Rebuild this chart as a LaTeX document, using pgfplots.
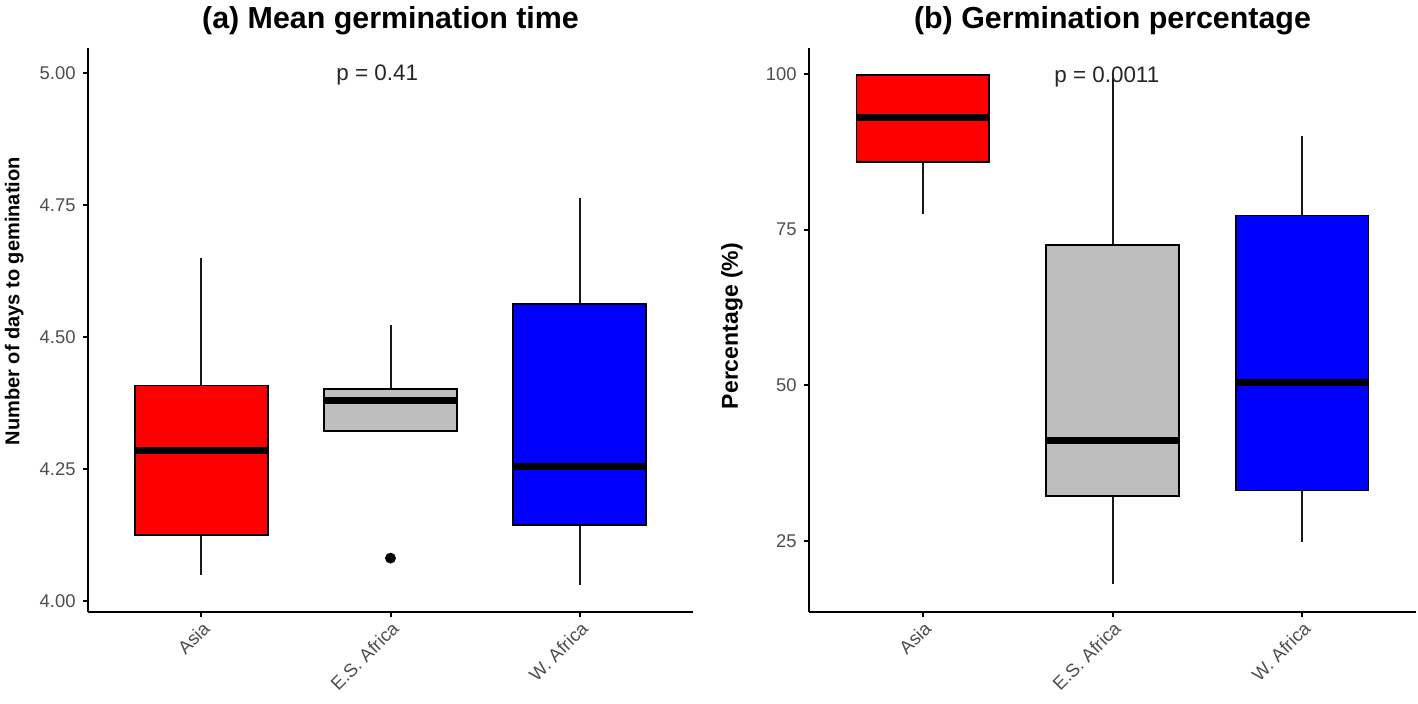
\documentclass[border=0pt]{standalone}
\usepackage{pgfplots}
\pgfplotsset{compat=1.18}
\usepgfplotslibrary{statistics}
\usepackage{fontspec}
\setmainfont{Liberation Sans}
\definecolor{tickgray}{HTML}{4D4D4D}
\definecolor{boxgray}{HTML}{BEBEBE}
\pgfplotsset{
  myaxis/.style={
    scale only axis, width=302.5pt, height=282pt,
    axis lines=left, axis line style={-, line width=0.9pt, black},
    xmin=0.4, xmax=3.6,
    xtick={1,2,3}, xticklabels={Asia, E.S. Africa, W. Africa},
    tick align=outside, major tick length=2.7pt,
    every tick/.style={black, line width=1pt},
    ticklabel style={font=\fontsize{9.2}{11}\selectfont, text=tickgray},
    xticklabel style={rotate=45, anchor=north east, inner sep=1pt},
    /pgf/number format/assume math mode=true,
    title style={font=\bfseries\fontsize{15.2}{17}\selectfont, at={(0.5,1)}, anchor=center, yshift=7.5pt},
    ylabel style={font=\bfseries\fontsize{10}{12}\selectfont, anchor=center},
    boxplot/draw direction=y,
    boxplot/box extend=0.7,
    boxplot/whisker extend=0,
    boxplot/every median/.style={line width=3.5pt, black},
    boxplot/every whisker/.style={line width=1pt, black!90},
  },
  redbox/.style={boxplot/every box/.style={draw=black, line width=0.9pt, fill=red}},
  graybox/.style={boxplot/every box/.style={draw=black, line width=0.9pt, fill=boxgray}},
  bluebox/.style={boxplot/every box/.style={draw=black, line width=0.9pt, fill=blue}},
}
\begin{document}
\begin{tikzpicture}
\useasboundingbox (0,0) rectangle (709pt,352pt);
% (a)
\begin{axis}[myaxis, at={(44pt,46pt)}, anchor=south west,
  ymin=3.979, ymax=5.047,
  ytick={4,4.25,4.5,4.75,5},
  yticklabel style={/pgf/number format/.cd, fixed, fixed zerofill, precision=2},
  title={(a) Mean germination time},
  ylabel={Number of days to gemination},
  ylabel style={at={(axis description cs:-0.122,0.551)}},
]
\addplot[redbox, boxplot prepared={draw position=1, lower whisker=4.049, lower quartile=4.125, median=4.285, upper quartile=4.408, upper whisker=4.649}] coordinates {};
\addplot[graybox, mark=*, mark size=2.5pt, mark options={draw=black, fill=black},
  boxplot prepared={draw position=2, lower whisker=4.322, lower quartile=4.322, median=4.380, upper quartile=4.401, upper whisker=4.522}] coordinates {(0,4.081)};
\addplot[bluebox, boxplot prepared={draw position=3, lower whisker=4.030, lower quartile=4.144, median=4.255, upper quartile=4.562, upper whisker=4.763}] coordinates {};
\node[font=\fontsize{11.2}{13}\selectfont, text=black!85] at (axis cs:1.93,4.995) {p = 0.41};
\end{axis}
% (b)
\begin{axis}[myaxis, at={(404.5pt,46pt)}, anchor=south west, width=303.5pt,
  ymin=13.6, ymax=104.2,
  ytick={25,50,75,100},
  title={(b) Germination percentage},
  ylabel={Percentage (\%)},
  ylabel style={at={(axis description cs:-0.127,0.507)}, font=\bfseries\fontsize{11.5}{13}\selectfont},
]
\addplot[redbox, boxplot prepared={draw position=1, lower whisker=77.5, lower quartile=85.9, median=93.0, upper quartile=99.9, upper whisker=99.9}] coordinates {};
\addplot[graybox, boxplot prepared={draw position=2, lower whisker=18.1, lower quartile=32.2, median=41.2, upper quartile=72.6, upper whisker=100}] coordinates {};
\addplot[bluebox, boxplot prepared={draw position=3, lower whisker=24.8, lower quartile=33.1, median=50.4, upper quartile=77.3, upper whisker=90.1}] coordinates {};
\node[font=\fontsize{11.2}{13}\selectfont, text=black!85] at (axis cs:1.97,99.6) {p = 0.0011};
\end{axis}
\end{tikzpicture}
\end{document}
